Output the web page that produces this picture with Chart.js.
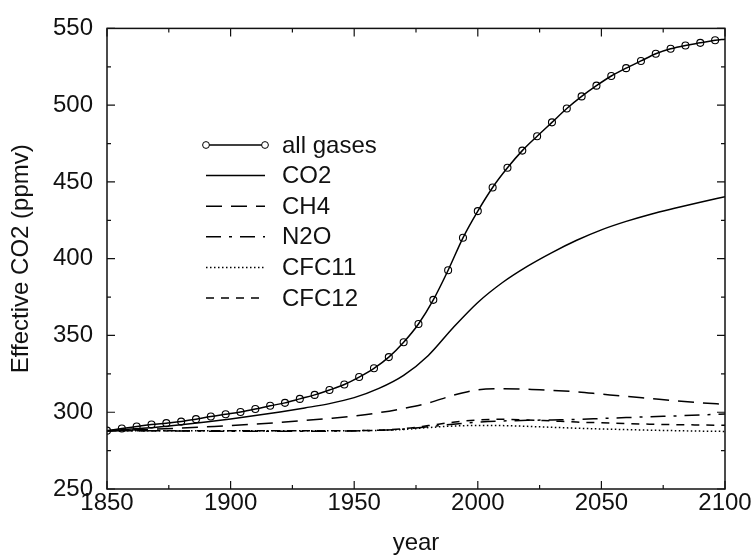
<!DOCTYPE html>
<html>
<head>
<meta charset="utf-8">
<script src="https://cdn.jsdelivr.net/npm/chart.js@4/dist/chart.umd.min.js"></script>
<style>
  html, body { margin: 0; padding: 0; background: #fff; }
  #graf { display: block; }
</style>
</head>
<body>
<canvas id="graf" width="756" height="555"></canvas>
<script>
// godine za pojedinacne plinove (svakih 10 godina)
const godine = [1850, 1860, 1870, 1880, 1890, 1900, 1910, 1920, 1930, 1940, 1950, 1960, 1970,
                1980, 1990, 2000, 2010, 2020, 2030, 2040, 2050, 2060, 2070, 2080, 2090, 2100];
const co2 = [288, 289, 290.2, 291.8, 293.6, 295.6, 297.8, 300.2, 302.8, 305.6, 309.5, 315.5, 324,
             337, 355, 371.5, 384.5, 395, 404, 412, 418.8, 424.3, 429, 433, 436.8, 440.4];
const ch4 = [288, 288.5, 289, 289.7, 290.5, 291.3, 292.3, 293.4, 294.6, 296, 297.6, 299.7, 302.5,
             306, 311, 314.6, 315.3, 315, 314.2, 313.3, 311.8, 310.3, 308.9, 307.5, 306.2, 305.1];
const n2o = [288, 288, 287.9, 287.8, 287.7, 287.6, 287.6, 287.6, 287.6, 287.7, 287.8, 288.2, 289,
             290.5, 292.2, 293.5, 294.3, 294.7, 295, 295.3, 295.9, 296.5, 297.1, 297.6, 298.2, 298.8];
const cfc11 = [288, 288, 288, 288, 288, 288, 288, 288, 288, 288, 288, 288.2, 288.8,
               290, 291, 291.4, 291.3, 290.8, 290.2, 289.6, 289.1, 288.7, 288.3, 288, 287.7, 287.5];
const cfc12 = [288, 288, 288, 288, 288, 288, 288, 288, 288, 288, 288, 288.3, 289.3,
               291.3, 293.5, 295, 295.4, 295, 294.3, 293.6, 293.1, 292.6, 292.2, 291.9, 291.7, 291.5];

// svi plinovi - markeri svakih 6 godina (+ kraj 2100)
const godineSvi = [1850, 1856, 1862, 1868, 1874, 1880, 1886, 1892, 1898, 1904, 1910, 1916, 1922,
                   1928, 1934, 1940, 1946, 1952, 1958, 1964, 1970, 1976, 1982, 1988, 1994, 2000,
                   2006, 2012, 2018, 2024, 2030, 2036, 2042, 2048, 2054, 2060, 2066, 2072, 2078,
                   2084, 2090, 2096, 2100];
const sviPlinovi = [288, 289.4, 290.7, 292, 292.9, 293.9, 295.5, 297.2, 298.7, 300.2, 302.1, 304.2,
                    306.1, 308.7, 311.3, 314.5, 318.1, 322.9, 328.6, 335.9, 345.6, 357.5, 373.2,
                    392.5, 413.6, 431, 446.4, 459.2, 470.4, 479.8, 488.8, 497.8, 505.7, 512.7, 519,
                    524.1, 528.8, 533.5, 536.7, 538.9, 540.6, 542.3, 543];

const xTicks = [1850, 1900, 1950, 2000, 2050, 2100];
const yTicks = [250, 300, 350, 400, 450, 500, 550];

const FONT = "'Liberation Sans', Arial, Helvetica, sans-serif";
const VEL = 24;

function tacke(xs, ys) {
    return xs.map((x, i) => ({ x: x, y: ys[i] }));
}

function linija(label, ys, dash) {
    return {
        label: label,
        data: tacke(godine, ys),
        borderColor: "#000",
        borderWidth: 1.5,
        borderDash: dash,
        pointRadius: 0,
        showLine: true,
        fill: false,
        cubicInterpolationMode: "monotone"
    };
}

// ticks prema unutra na sve cetiri strane + okvir
const okvirPlugin = {
    id: "okvir",
    afterDraw(chart) {
        const ctx = chart.ctx;
        const a = chart.chartArea;
        const sx = chart.scales.x, sy = chart.scales.y;
        ctx.save();
        ctx.strokeStyle = "#111";
        ctx.lineWidth = 1.5;
        ctx.strokeRect(a.left, a.top, a.right - a.left, a.bottom - a.top);
        ctx.lineWidth = 1.2;
        ctx.beginPath();
        for (let v = 1850; v <= 2100; v += 25) {
            const px = sx.getPixelForValue(v);
            const d = v % 50 === 0 ? 8 : 4;
            ctx.moveTo(px, a.bottom); ctx.lineTo(px, a.bottom - d);
            ctx.moveTo(px, a.top); ctx.lineTo(px, a.top + d);
        }
        for (let v = 250; v <= 550; v += 25) {
            const py = sy.getPixelForValue(v);
            const d = v % 50 === 0 ? 8 : 4;
            ctx.moveTo(a.left, py); ctx.lineTo(a.left + d, py);
            ctx.moveTo(a.right, py); ctx.lineTo(a.right - d, py);
        }
        ctx.stroke();
        ctx.restore();
    }
};

// legenda unutar grafa
const legendaPlugin = {
    id: "legenda",
    afterDatasetsDraw(chart) {
        const ctx = chart.ctx;
        const x0 = 206, x1 = 265, xt = 282, y0 = 145, korak = 30.6;
        ctx.save();
        ctx.font = VEL + "px " + FONT;
        ctx.textBaseline = "middle";
        ctx.fillStyle = "#111";
        chart.data.datasets.forEach((ds, i) => {
            const y = y0 + korak * i;
            ctx.strokeStyle = "#000";
            ctx.lineWidth = ds.borderWidth;
            ctx.setLineDash(ds.borderDash || []);
            ctx.beginPath();
            ctx.moveTo(x0, y);
            ctx.lineTo(x1, y);
            ctx.stroke();
            ctx.setLineDash([]);
            if (ds.legendMarker) {
                ctx.lineWidth = 1;
                [x0, x1].forEach(px => {
                    ctx.beginPath();
                    ctx.arc(px, y, 3.4, 0, Math.PI * 2);
                    ctx.fillStyle = "#fff";
                    ctx.fill();
                    ctx.stroke();
                });
                ctx.fillStyle = "#111";
            }
            ctx.fillText(ds.label, xt, y + 1);
        });
        ctx.restore();
    }
};

new Chart(document.getElementById("graf").getContext("2d"), {
    type: "scatter",
    data: {
        datasets: [
            {
                label: "all gases",
                data: tacke(godineSvi, sviPlinovi),
                borderColor: "#000",
                borderWidth: 1.5,
                showLine: true,
                fill: false,
                cubicInterpolationMode: "monotone",
                pointRadius: godineSvi.map(g => g === 2100 ? 0 : 3.5),
                pointBorderWidth: 1.1,
                pointBorderColor: "#000",
                pointBackgroundColor: "rgba(0,0,0,0)",
                legendMarker: true,
                order: 0
            },
            linija("CO2", co2, []),
            linija("CH4", ch4, [16, 9]),
            linija("N2O", n2o, [15, 8, 3, 8]),
            linija("CFC11", cfc11, [1.5, 2.5]),
            linija("CFC12", cfc12, [8, 7])
        ]
    },
    options: {
        responsive: false,
        animation: false,
        devicePixelRatio: 1,
        layout: { padding: { top: 22, right: 31, left: 0, bottom: 0 } },
        plugins: {
            legend: { display: false },
            tooltip: { enabled: false }
        },
        scales: {
            x: {
                type: "linear",
                min: 1850,
                max: 2100,
                afterFit: s => { s.height = 66; },
                afterBuildTicks: s => { s.ticks = xTicks.map(v => ({ value: v })); },
                grid: { display: false, drawTicks: false },
                border: { display: false },
                ticks: {
                    color: "#111", font: { family: FONT, size: VEL }, padding: 0, maxRotation: 0,
                    callback: v => String(v)
                },
                title: { display: true, text: "year", color: "#111", font: { family: FONT, size: VEL }, padding: { top: 0, bottom: -3 } }
            },
            y: {
                type: "linear",
                min: 250,
                max: 550,
                afterFit: s => { s.width = 107; },
                afterBuildTicks: s => { s.ticks = yTicks.map(v => ({ value: v })); },
                grid: { display: false, drawTicks: false },
                border: { display: false },
                ticks: { color: "#111", font: { family: FONT, size: VEL }, padding: 14, callback: v => String(v) },
                title: { display: true, text: "Effective CO2 (ppmv)", color: "#111", font: { family: FONT, size: VEL }, padding: { top: 7, bottom: 0 } }
            }
        }
    },
    plugins: [okvirPlugin, legendaPlugin]
});
</script>
</body>
</html>
